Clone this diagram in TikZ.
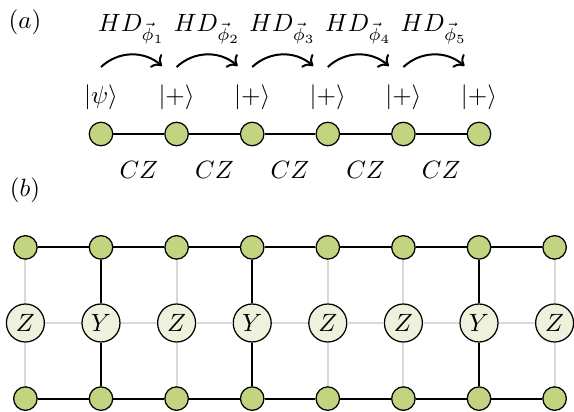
\documentclass[tikz,border=0pt]{standalone}
\usetikzlibrary{arrows.meta}
\definecolor{qgreen}{RGB}{194,212,128}
\definecolor{qlight}{RGB}{237,242,220}
\definecolor{qgrey}{RGB}{217,217,217}
\begin{document}
\begin{tikzpicture}[x=0.4pt,y=-0.4pt,
  qubit/.style={circle,draw=black,line width=0.5pt,fill=qgreen,minimum size=9.4pt,inner sep=0pt},
  meas/.style={circle,draw=black,line width=0.5pt,fill=qlight,minimum size=15.2pt,inner sep=0pt},
  bond/.style={line width=0.8pt,black},
  faint/.style={line width=0.8pt,qgrey},
  hdlabel/.style={anchor=base,inner sep=0.5pt},
  hdarrow/.style={-{To[length=3.5pt,width=7pt]},line width=0.8pt,bend left=42}]
\useasboundingbox (0,0) rectangle (574,412);
% labels
\node (la) at (25,22) {$(a)$};
\node (lb) at (25,190) {$(b)$};
% ---- part (a) ----
\foreach \i/\x in {1/101,2/176.6,3/252.2,4/327.8,5/403.4,6/479}
  \node[qubit] (a\i) at (\x,134) {};
\node (k1) at (101,97) {$|\psi\rangle$};
\foreach \i/\x in {2/176.6,3/252.2,4/327.8,5/403.4,6/479}
  \node (k\i) at (\x,97) {$|+\rangle$};
\foreach \i/\j/\x in {1/2/138.8,2/3/214.4,3/4/290,4/5/365.6,5/6/441.2}{
  \draw[bond] (a\i) -- (a\j);
  \node[anchor=base] (cz\i) at (\x,179) {$CZ$};
}
\foreach \i/\x in {1/101,2/176.6,3/252.2,4/327.8,5/403.4}{
  \coordinate (s\i) at (\x,67);
  \coordinate (e\i) at (\x+61,66);
  \draw[hdarrow] (s\i) to (e\i);
  \node[hdlabel] (hd\i) at (\x+30.5,32) {$HD_{\vec{\phi}_{\i}}$};
}
% ---- part (b) ----
\foreach \c/\x/\m in {1/25.4/Z,2/101/Y,3/176.6/Z,4/252.2/Y,5/327.8/Z,6/403.4/Z,7/479/Y,8/554.6/Z}{
  \node[qubit] (t\c) at (\x,247.4) {};
  \node[meas] (m\c) at (\x,323) {$\m$};
  \node[qubit] (b\c) at (\x,398.6) {};
}
% grey grid
\foreach \i/\j in {1/2,2/3,3/4,4/5,5/6,6/7,7/8}
  \draw[faint] (m\i) -- (m\j);
\foreach \c in {1,3,5,6,8}{
  \draw[faint] (t\c) -- (m\c);
  \draw[faint] (m\c) -- (b\c);
}
% black bonds
\foreach \i/\j in {1/2,2/3,3/4,4/5,5/6,6/7,7/8}{
  \draw[bond] (t\i) -- (t\j);
  \draw[bond] (b\i) -- (b\j);
}
\foreach \c in {2,4,7}{
  \draw[bond] (t\c) -- (m\c);
  \draw[bond] (m\c) -- (b\c);
}
\end{tikzpicture}
\end{document}
